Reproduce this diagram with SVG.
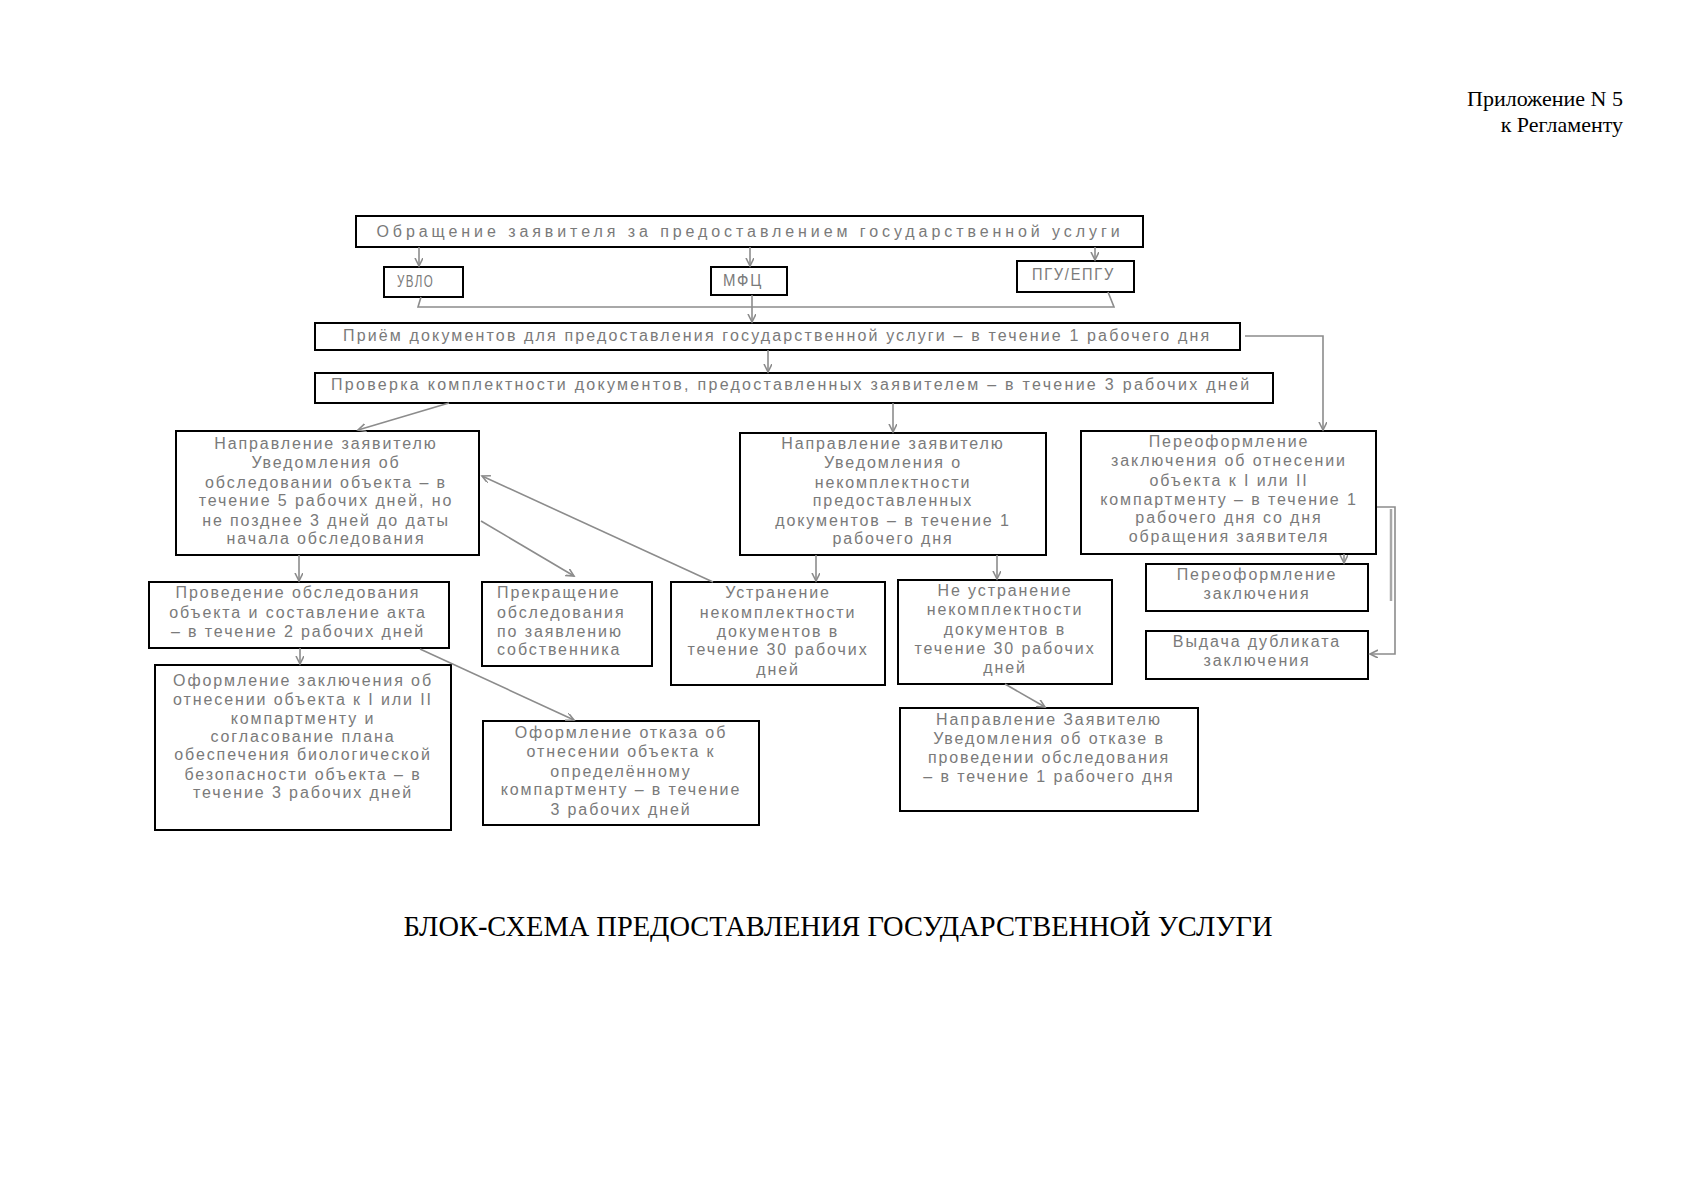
<svg xmlns="http://www.w3.org/2000/svg" width="1697" height="1200" viewBox="0 0 1697 1200">
<style>
.box{fill:#fff;stroke:#000;stroke-width:2}
.t{font-family:"Liberation Sans",Arial,sans-serif;font-size:16px;fill:#7a7a7a;letter-spacing:1.9px}
.c{text-anchor:middle}
.hdr{font-family:"Liberation Serif","Times New Roman",serif;font-size:22px;fill:#000;text-anchor:end}
.title{font-family:"Liberation Serif","Times New Roman",serif;font-size:29px;fill:#000;text-anchor:middle}
.ln{fill:none;stroke:#8c8c8c;stroke-width:1.6}
</style>
<defs>
<marker id="ah" markerWidth="10" markerHeight="10" refX="8" refY="4" orient="auto" markerUnits="userSpaceOnUse">
<path d="M0,0 L8,4 L0,8" fill="none" stroke="#8c8c8c" stroke-width="1.6"/>
</marker>
</defs>
<rect width="1697" height="1200" fill="#fff"/>
<text class="hdr" x="1623" y="106">Приложение N 5</text>
<text class="hdr" x="1623" y="132">к Регламенту</text>

<g id="n-top"><rect class="box" x="356" y="216" width="787" height="31"/>
<text class="t c" x="749" y="237" textLength="745" lengthAdjust="spacing">Обращение  заявителя  за предоставлением  государственной  услуги</text></g>
<g id="n-uvlo"><rect class="box" x="384" y="267" width="79" height="30"/>
<text class="t" x="397" y="287" textLength="37" lengthAdjust="spacingAndGlyphs">УВЛО</text></g>
<g id="n-mfc"><rect class="box" x="711" y="267" width="76" height="28"/>
<text class="t" x="723" y="286" textLength="40" lengthAdjust="spacingAndGlyphs">МФЦ</text></g>
<g id="n-pgu"><rect class="box" x="1017" y="261" width="117" height="31"/>
<text class="t" x="1032" y="280" textLength="83" lengthAdjust="spacingAndGlyphs">ПГУ/ЕПГУ</text></g>
<g id="n-priem"><rect class="box" x="315" y="323" width="925" height="27"/>
<text class="t c" x="777" y="341" textLength="868" lengthAdjust="spacing">Приём документов для предоставления  государственной услуги – в течение 1 рабочего дня</text></g>
<g id="n-prov"><rect class="box" x="315" y="373" width="958" height="30"/>
<text class="t c" x="791" y="390" textLength="920" lengthAdjust="spacing">Проверка комплектности  документов, предоставленных заявителем – в течение 3 рабочих дней</text></g>

<g id="n-a"><rect class="box" x="176" y="431" width="303" height="124"/>
<text class="t c" x="326" y="449">Направление заявителю</text>
<text class="t c" x="326" y="468">Уведомления  об</text>
<text class="t c" x="326" y="488">обследовании  объекта – в</text>
<text class="t c" x="326" y="506">течение 5 рабочих дней, но</text>
<text class="t c" x="326" y="526">не позднее 3 дней до даты</text>
<text class="t c" x="326" y="544">начала обследования</text></g>

<g id="n-b"><rect class="box" x="740" y="433" width="306" height="122"/>
<text class="t c" x="893" y="449">Направление заявителю</text>
<text class="t c" x="893" y="468">Уведомления  о</text>
<text class="t c" x="893" y="488">некомплектности</text>
<text class="t c" x="893" y="506">предоставленных</text>
<text class="t c" x="893" y="526">документов  – в течение 1</text>
<text class="t c" x="893" y="544">рабочего дня</text></g>

<g id="n-c"><rect class="box" x="1081" y="431" width="295" height="123"/>
<text class="t c" x="1229" y="447">Переоформление</text>
<text class="t c" x="1229" y="466">заключения об отнесении</text>
<text class="t c" x="1229" y="486">объекта к I или II</text>
<text class="t c" x="1229" y="505">компартменту  – в течение 1</text>
<text class="t c" x="1229" y="523">рабочего дня со дня</text>
<text class="t c" x="1229" y="542">обращения  заявителя</text></g>

<g id="n-proved"><rect class="box" x="149" y="582" width="300" height="66"/>
<text class="t c" x="298" y="598">Проведение  обследования</text>
<text class="t c" x="298" y="618">объекта и составление  акта</text>
<text class="t c" x="298" y="637">– в течение 2 рабочих дней</text></g>

<g id="n-prekr"><rect class="box" x="482" y="582" width="170" height="84"/>
<text class="t" x="497" y="598">Прекращение</text>
<text class="t" x="497" y="618">обследования</text>
<text class="t" x="497" y="637">по заявлению</text>
<text class="t" x="497" y="655">собственника</text></g>

<g id="n-ustr"><rect class="box" x="671" y="582" width="214" height="103"/>
<text class="t c" x="778" y="598">Устранение</text>
<text class="t c" x="778" y="618">некомплектности</text>
<text class="t c" x="778" y="637">документов  в</text>
<text class="t c" x="778" y="655">течение 30 рабочих</text>
<text class="t c" x="778" y="675">дней</text></g>

<g id="n-neustr"><rect class="box" x="898" y="580" width="214" height="104"/>
<text class="t c" x="1005" y="596">Не устранение</text>
<text class="t c" x="1005" y="615">некомплектности</text>
<text class="t c" x="1005" y="635">документов  в</text>
<text class="t c" x="1005" y="654">течение 30 рабочих</text>
<text class="t c" x="1005" y="673">дней</text></g>

<g id="n-pereofzak"><rect class="box" x="1146" y="564" width="222" height="47"/>
<text class="t c" x="1257" y="580">Переоформление</text>
<text class="t c" x="1257" y="599">заключения</text></g>

<g id="n-vydacha"><rect class="box" x="1146" y="631" width="222" height="48"/>
<text class="t c" x="1257" y="647">Выдача дубликата</text>
<text class="t c" x="1257" y="666">заключения</text></g>

<g id="n-ofzak"><rect class="box" x="155" y="665" width="296" height="165"/>
<text class="t c" x="303" y="686">Оформление  заключения об</text>
<text class="t c" x="303" y="705">отнесении  объекта к I или II</text>
<text class="t c" x="303" y="724">компартменту  и</text>
<text class="t c" x="303" y="742">согласование  плана</text>
<text class="t c" x="303" y="760">обеспечения  биологической</text>
<text class="t c" x="303" y="780">безопасности  объекта – в</text>
<text class="t c" x="303" y="798">течение 3 рабочих дней</text></g>

<g id="n-ofotk"><rect class="box" x="483" y="721" width="276" height="104"/>
<text class="t c" x="621" y="738">Оформление  отказа об</text>
<text class="t c" x="621" y="757">отнесении  объекта к</text>
<text class="t c" x="621" y="777">определённому</text>
<text class="t c" x="621" y="795">компартменту  – в течение</text>
<text class="t c" x="621" y="815">3 рабочих дней</text></g>

<g id="n-otkaz"><rect class="box" x="900" y="708" width="298" height="103"/>
<text class="t c" x="1049" y="725">Направление Заявителю</text>
<text class="t c" x="1049" y="744">Уведомления  об отказе в</text>
<text class="t c" x="1049" y="763">проведении  обследования</text>
<text class="t c" x="1049" y="782">– в течение 1 рабочего дня</text></g>

<g id="connectors">
<line class="ln" x1="419" y1="247" x2="419" y2="266" marker-end="url(#ah)"/>
<line class="ln" x1="750" y1="247" x2="750" y2="266" marker-end="url(#ah)"/>
<line class="ln" x1="1095" y1="247" x2="1095" y2="260" marker-end="url(#ah)"/>
<polyline class="ln" points="421,297 418,307 1114,307 1108,292"/>
<line class="ln" x1="752" y1="295" x2="752" y2="322" marker-end="url(#ah)"/>
<line class="ln" x1="768" y1="350" x2="768" y2="372" marker-end="url(#ah)"/>
<polyline class="ln" points="1245,336 1323,336 1323,430" marker-end="url(#ah)"/>
<line class="ln" x1="449" y1="403" x2="358" y2="430" marker-end="url(#ah)"/>
<line class="ln" x1="893" y1="403" x2="893" y2="432" marker-end="url(#ah)"/>
<line class="ln" x1="299" y1="555" x2="299" y2="581" marker-end="url(#ah)"/>
<line class="ln" x1="816" y1="555" x2="816" y2="581" marker-end="url(#ah)"/>
<line class="ln" x1="997" y1="555" x2="997" y2="579" marker-end="url(#ah)"/>
<line class="ln" x1="713" y1="582" x2="482" y2="476" marker-end="url(#ah)"/>
<line class="ln" x1="481" y1="521" x2="574" y2="576" marker-end="url(#ah)"/>
<line class="ln" x1="300" y1="648" x2="300" y2="664" marker-end="url(#ah)"/>
<line class="ln" x1="420" y1="649" x2="574" y2="720" marker-end="url(#ah)"/>
<line class="ln" x1="1005" y1="684" x2="1045" y2="707" marker-end="url(#ah)"/>
<line class="ln" x1="1344" y1="554" x2="1344" y2="563" marker-end="url(#ah)"/>
<polyline class="ln" points="1377,507 1395,507 1395,654 1370,654" marker-end="url(#ah)"/>
<line x1="1391" y1="509" x2="1391" y2="601" stroke="#a8a8a8" stroke-width="2.5"/>
</g>

<text class="title" x="838" y="936" textLength="869" lengthAdjust="spacingAndGlyphs">БЛОК-СХЕМА ПРЕДОСТАВЛЕНИЯ ГОСУДАРСТВЕННОЙ УСЛУГИ</text>
</svg>
